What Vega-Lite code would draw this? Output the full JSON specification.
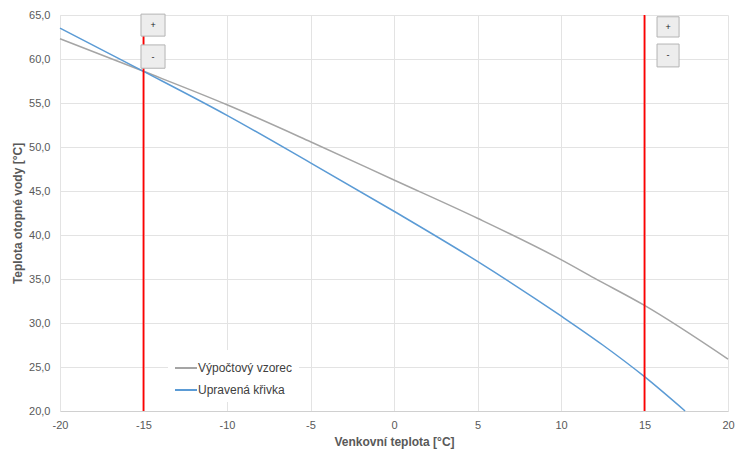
{
  "$schema": "https://vega.github.io/schema/vega-lite/v6.json",
  "width": 668,
  "height": 396,
  "autosize": {"type": "none"},
  "padding": {"left": 60, "top": 15, "right": 7, "bottom": 41},
  "background": "white",
  "config": {
    "font": "Liberation Sans",
    "view": {"stroke": null},
    "axis": {"gridColor": "#e3e3e3", "gridWidth": 1, "labelColor": "#595959", "titleColor": "#595959", "labelFontSize": 11, "titleFontSize": 12, "titleFontWeight": "bold", "ticks": false, "labelFlush": false}
  },
  "datasets": {
    "curves": [
      {"t": -20, "v": 62.3, "s": "Výpočtový vzorec"},
      {"t": -15, "v": 58.6, "s": "Výpočtový vzorec"},
      {"t": -10, "v": 54.8, "s": "Výpočtový vzorec"},
      {"t": -5, "v": 50.6, "s": "Výpočtový vzorec"},
      {"t": 0, "v": 46.25, "s": "Výpočtový vzorec"},
      {"t": 5, "v": 41.9, "s": "Výpočtový vzorec"},
      {"t": 10, "v": 37.2, "s": "Výpočtový vzorec"},
      {"t": 12, "v": 35.1, "s": "Výpočtový vzorec"},
      {"t": 15, "v": 32.0, "s": "Výpočtový vzorec"},
      {"t": 20, "v": 25.9, "s": "Výpočtový vzorec"},
      {"t": -20, "v": 63.5, "s": "Upravená křivka"},
      {"t": -15, "v": 58.6, "s": "Upravená křivka"},
      {"t": -10, "v": 53.6, "s": "Upravená křivka"},
      {"t": -5, "v": 48.2, "s": "Upravená křivka"},
      {"t": 0, "v": 42.7, "s": "Upravená křivka"},
      {"t": 5, "v": 37.0, "s": "Upravená křivka"},
      {"t": 10, "v": 30.8, "s": "Upravená křivka"},
      {"t": 12.5, "v": 27.5, "s": "Upravená křivka"},
      {"t": 15, "v": 23.9, "s": "Upravená křivka"},
      {"t": 17.43, "v": 20.0, "s": "Upravená křivka"}
    ],
    "limits": [{"t": -15}, {"t": 15}],
    "buttons": [
      {"x1": -15.15, "x2": -13.71, "y1": 65.1, "y2": 62.6, "xm": -14.43, "ym": 63.85, "lab": "+"},
      {"x1": -15.15, "x2": -13.71, "y1": 61.6, "y2": 58.95, "xm": -14.43, "ym": 60.27, "lab": "-"},
      {"x1": 15.75, "x2": 17.07, "y1": 64.8, "y2": 62.5, "xm": 16.41, "ym": 63.65, "lab": "+"},
      {"x1": 15.75, "x2": 17.07, "y1": 61.7, "y2": 59.1, "xm": 16.41, "ym": 60.4, "lab": "-"}
    ]
  },
  "layer": [
    {
      "data": {"name": "curves"},
      "mark": {"type": "line", "strokeWidth": 1.5, "interpolate": "monotone"},
      "encoding": {
        "x": {"field": "t", "type": "quantitative", "scale": {"domain": [-20, 20], "nice": false}, "axis": {"values": [-20, -15, -10, -5, 0, 5, 10, 15, 20], "labelExpr": "datum.value < 0 ? '-' + abs(datum.value) : '' + datum.value", "title": "Venkovní teplota [°C]", "labelPadding": 8, "titlePadding": 6, "domainColor": "#d0d0d0"}},
        "y": {"field": "v", "type": "quantitative", "scale": {"domain": [20, 65], "nice": false, "zero": false}, "axis": {"values": [20, 25, 30, 35, 40, 45, 50, 55, 60, 65], "labelExpr": "replace(format(datum.value, '.1f'), '.', ',')", "title": "Teplota otopné vody [°C]", "labelPadding": 10, "titlePadding": 4, "domainColor": "#e3e3e3"}},
        "color": {"field": "s", "type": "nominal", "scale": {"domain": ["Výpočtový vzorec", "Upravená křivka"], "range": ["#a5a5a5", "#5b9bd5"]}, "sort": null,
          "legend": {"title": null, "orient": "none", "legendX": 108, "legendY": 335, "symbolType": "stroke", "symbolSize": 484, "symbolStrokeWidth": 2, "labelFontSize": 12, "labelColor": "#404040", "labelOffset": 0, "rowPadding": 4, "fillColor": "white", "padding": 6}}
      }
    },
    {
      "data": {"name": "limits"},
      "mark": {"type": "rule", "color": "#ff0000", "strokeWidth": 1.8},
      "encoding": {"x": {"field": "t", "type": "quantitative"}}
    },
    {
      "data": {"name": "buttons"},
      "mark": {"type": "rect", "fill": "#ededed", "stroke": "#b4b4b4", "strokeWidth": 1},
      "encoding": {
        "x": {"field": "x1", "type": "quantitative"},
        "x2": {"field": "x2"},
        "y": {"field": "y1", "type": "quantitative"},
        "y2": {"field": "y2"}
      }
    },
    {
      "data": {"name": "buttons"},
      "mark": {"type": "text", "fontSize": 9, "color": "#222222"},
      "encoding": {
        "x": {"field": "xm", "type": "quantitative"},
        "y": {"field": "ym", "type": "quantitative"},
        "text": {"field": "lab"}
      }
    }
  ]
}
